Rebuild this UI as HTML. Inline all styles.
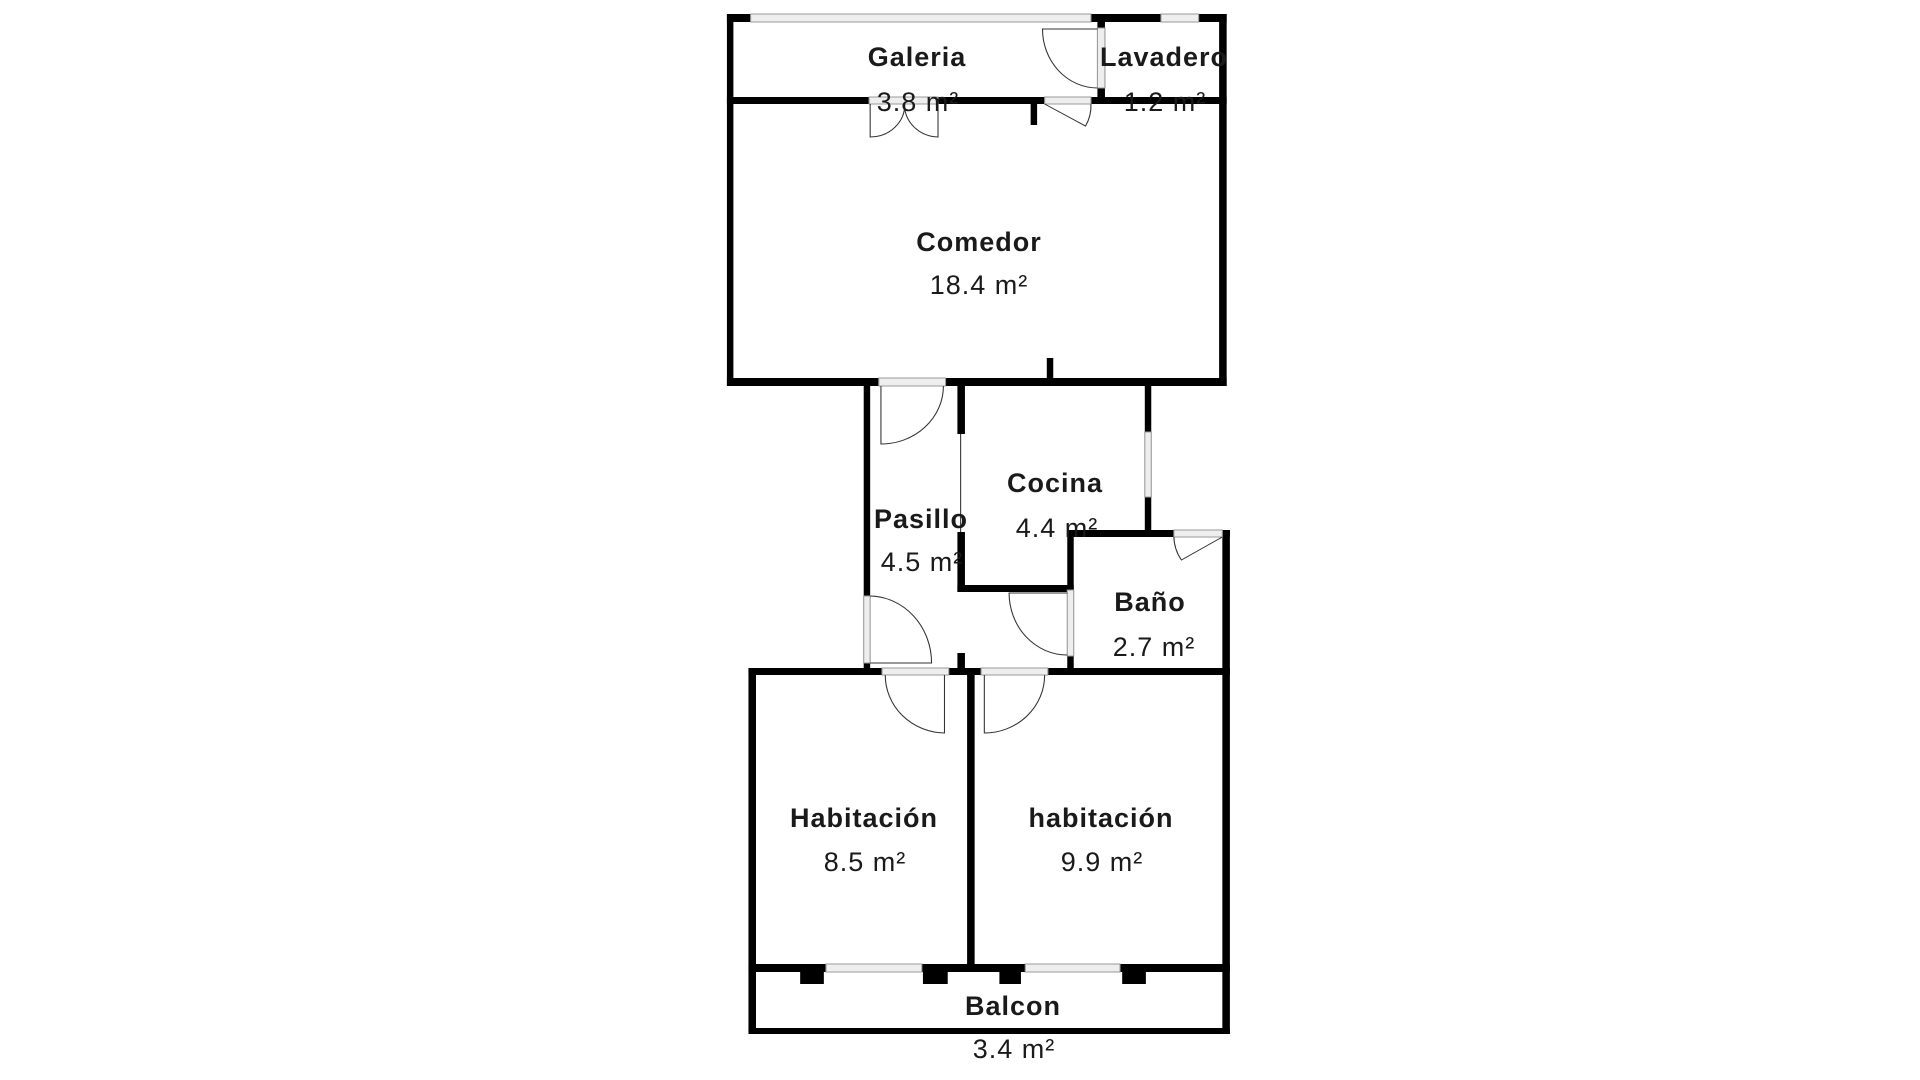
<!DOCTYPE html>
<html><head><meta charset="utf-8"><style>
html,body{margin:0;padding:0;background:#fff;}
svg{display:block}
text{font-family:"Liberation Sans",sans-serif;fill:#1a1a1a;text-anchor:middle;dominant-baseline:middle}
.n{font-weight:bold;font-size:27px;letter-spacing:1px}
.a{font-size:27px;letter-spacing:1px}
</style></head><body>
<svg width="1920" height="1080" viewBox="0 0 1920 1080" xmlns="http://www.w3.org/2000/svg">
<g transform="matrix(1.077,0,0,1,-53.9,0)">
<g fill="#000">
<rect x="725" y="14" width="22" height="8"/>
<rect x="1063" y="14" width="65" height="8"/>
<rect x="1163" y="14" width="26" height="8"/>
<rect x="725" y="14" width="6" height="372"/>
<rect x="1182" y="14" width="7" height="372"/>
<rect x="725" y="97" width="132" height="7"/>
<rect x="921" y="97" width="99" height="7"/>
<rect x="1063" y="97" width="126" height="7"/>
<rect x="1007" y="104" width="6" height="21"/>
<rect x="1069" y="14" width="7" height="14"/>
<rect x="1069" y="88" width="7" height="16"/>
<rect x="725" y="378" width="141" height="8"/>
<rect x="928" y="378" width="261" height="8"/>
<rect x="1022" y="358" width="6" height="20"/>
<rect x="852" y="378" width="6" height="218"/>
<rect x="852" y="663" width="6" height="8"/>
<rect x="939" y="386" width="7" height="48"/>
<rect x="939" y="532" width="7" height="60"/>
<rect x="939" y="585" width="108" height="7"/>
<rect x="939" y="653" width="7" height="18"/>
<rect x="1113" y="386" width="6" height="46"/>
<rect x="1113" y="497" width="6" height="40"/>
<rect x="1041" y="530" width="99" height="7"/>
<rect x="1185" y="530" width="7" height="7"/>
<rect x="1041" y="530" width="6" height="60"/>
<rect x="1041" y="656" width="6" height="14"/>
<rect x="1185" y="530" width="7" height="144"/>
<rect x="745" y="668" width="124" height="7"/>
<rect x="931" y="668" width="30" height="7"/>
<rect x="1023" y="668" width="169" height="7"/>
<rect x="745" y="668" width="7" height="366"/>
<rect x="1185" y="668" width="7" height="366"/>
<rect x="948" y="668" width="7" height="304"/>
<rect x="745" y="964" width="72" height="8"/>
<rect x="906" y="964" width="96" height="8"/>
<rect x="1090" y="964" width="102" height="8"/>
<rect x="793" y="964" width="22" height="20"/>
<rect x="907" y="964" width="23" height="20"/>
<rect x="978" y="964" width="20" height="20"/>
<rect x="1092" y="964" width="22" height="20"/>
<rect x="745" y="1028" width="447" height="6"/>
</g>
<g fill="#eee" stroke="#999" stroke-width="1">
<rect x="747" y="14" width="316" height="8"/>
<rect x="1128" y="14" width="35" height="8"/>
<rect x="857" y="97" width="64" height="7"/>
<rect x="1020" y="97" width="43" height="7"/>
<rect x="1069" y="28" width="7" height="60"/>
<rect x="866" y="378" width="62" height="8"/>
<rect x="1113" y="432" width="6" height="65"/>
<rect x="1140" y="530" width="45" height="7"/>
<rect x="852" y="596" width="6" height="67"/>
<rect x="1041" y="590" width="6" height="66"/>
<rect x="869" y="668" width="62" height="7"/>
<rect x="961" y="668" width="62" height="7"/>
<rect x="817" y="964" width="89" height="8"/>
<rect x="1002" y="964" width="88" height="8"/>
</g>
<g fill="none" stroke="#333" stroke-width="1">
<line x1="942" y1="434" x2="942" y2="532"/>
<path d="M858 104 V137 A32 32 0 0 0 890 104"/>
<path d="M921 104 V137 A32 32 0 0 1 890 104"/>
<path d="M1020 104 L1058 126 A43 43 0 0 0 1063 104"/>
<path d="M1069 29 H1018 A51 59 0 0 0 1069 88"/>
<path d="M868 386 V444 A58 58 0 0 0 926 386"/>
<path d="M1185 537 L1147 560 A45 45 0 0 1 1140 537"/>
<path d="M858 596 A58 67 0 0 1 915 663 H858"/>
<path d="M1041 655 A54 62 0 0 1 987 593 H1041"/>
<path d="M927 675 V733 A56 58 0 0 1 872 675"/>
<path d="M964 675 V733 A56 58 0 0 0 1020 675"/>
</g>
</g>
<text class="n" x="917" y="59">Galeria</text>
<text class="a" x="918" y="104">3.8 m²</text>
<text class="n" x="1164" y="59">Lavadero</text>
<text class="a" x="1165" y="104">1.2 m²</text>
<text class="n" x="979" y="244">Comedor</text>
<text class="a" x="979" y="287">18.4 m²</text>
<text class="n" x="1055" y="485">Cocina</text>
<text class="a" x="1057" y="530">4.4 m²</text>
<text class="n" x="921" y="521">Pasillo</text>
<text class="a" x="922" y="564">4.5 m²</text>
<text class="n" x="1150" y="604">Baño</text>
<text class="a" x="1154" y="649">2.7 m²</text>
<text class="n" x="864" y="820">Habitación</text>
<text class="a" x="865" y="864">8.5 m²</text>
<text class="n" x="1101" y="820">habitación</text>
<text class="a" x="1102" y="864">9.9 m²</text>
<text class="n" x="1013" y="1008">Balcon</text>
<text class="a" x="1014" y="1051">3.4 m²</text>
</svg>
</body></html>
